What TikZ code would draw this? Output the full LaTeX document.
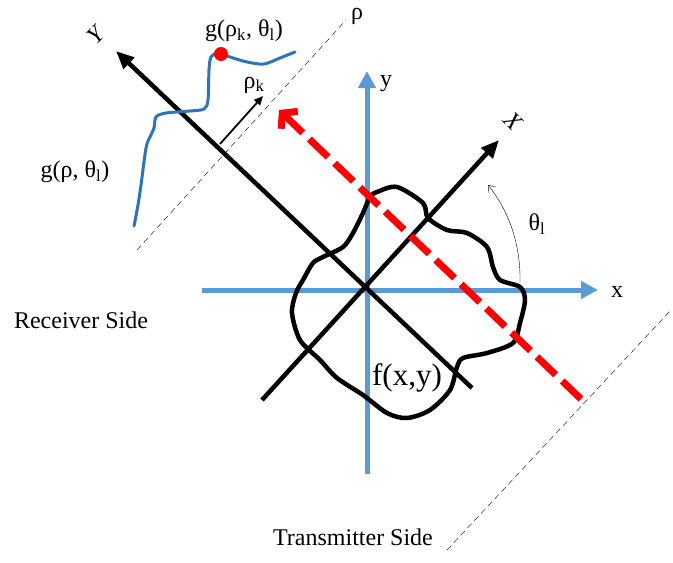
\documentclass[tikz,border=0pt]{standalone}
\usepackage{fontspec}
\setmainfont{Liberation Serif}
\usetikzlibrary{arrows.meta}
\definecolor{axisblue}{RGB}{91,155,213}
\definecolor{curveblue}{RGB}{46,117,182}
\begin{document}
\begin{tikzpicture}[x=1pt, y=-1pt,
    every node/.style={font=\fontsize{24}{28}\selectfont, inner sep=1pt},
    blueaxis/.style={draw=axisblue, line width=5pt, -{Triangle[length=17pt,width=17pt]}},
    blackaxis/.style={draw=black, line width=4.5pt, -{Triangle[length=18pt,width=15pt]}},
    beam/.style={draw=red, line width=7pt, dash pattern=on 26pt off 9pt,
                 -{Straight Barb[length=10pt,width=24pt]}},
    sideline/.style={draw=black, thin, dash pattern=on 6pt off 4pt},
    rotlab/.style={font=\fontsize{24}{28}\selectfont\itshape},
  ]
    \useasboundingbox (0,0) rectangle (673,563);
    % detector / source lines
    \coordinate (r1) at (137,250);
    \coordinate (r2) at (346,20);
    \coordinate (t1) at (447,550);
    \coordinate (t2) at (671,310);
    \draw[sideline] (r1) -- (r2);
    \draw[sideline] (t1) -- (t2);
    % fixed axes
    \coordinate (O) at (367,290);
    \coordinate (xa) at (202,290);
    \coordinate (xb) at (598,290);
    \coordinate (ya) at (367,474);
    \coordinate (yb) at (367,71);
    \draw[blueaxis] (xa) -- (xb);
    \draw[blueaxis] (ya) -- (yb);
    % rotated axes
    \coordinate (Xa) at (262,400);
    \coordinate (Xb) at (499,140);
    \coordinate (Ya) at (472,388);
    \coordinate (Yb) at (116,51);
    \draw[blackaxis] (Xa) -- (Xb);
    \draw[blackaxis] (Ya) -- (Yb);
    % object
    \draw[line width=4.5pt, line join=round] plot[smooth cycle, tension=0.5] coordinates {
      (377,192) (397,187) (423,203) (428,218) (447,230) (467,233) (487,247)
      (493,267) (500,280) (520,287) (525,300) (520,323) (513,343) (487,353)
      (463,358) (457,367) (450,390) (430,410) (407,418) (387,413) (363,395)
      (337,378) (320,360) (300,340) (292,313) (296,293) (303,280) (313,263)
      (323,257) (343,247) (353,233) (363,213) (370,197)};
    % ray
    \coordinate (s1) at (581,399);
    \coordinate (s2) at (279,110);
    \draw[beam] (s1) -- (s2);
    % projection
    \draw[curveblue, line width=3pt, line cap=round] plot[smooth, tension=0.5] coordinates {
      (134,226) (138,205) (141,185) (146,148) (150,137) (154,128) (156,117)
      (166,113) (190,111) (204,109) (208,100) (209,70) (211,57) (218,53)
      (230,57) (247,62) (264,64) (280,58) (295,52)};
    \fill[red] (221,54) circle[radius=7pt];
    \coordinate (k1) at (220,144);
    \coordinate (k2) at (263,96);
    \draw[line width=1.8pt, -{Triangle[length=9pt,width=8pt]}] (k1) -- (k2);
    % angle
    \coordinate (a1) at (520,283);
    \coordinate (a2) at (488,185);
    \draw[thin, -{Straight Barb[length=6pt,width=9pt]}] (a1) .. controls (521,240) and (506,207) .. (a2);
    % labels
    \node (xlab) at (617,292) {x};
    \node (ylab) at (386,84) {y};
    \node[rotlab, rotate=-45] (Xlab) at (513,121) {X};
    \node[rotlab, rotate=45] (Ylab) at (96,35) {Y};
    \node (rholab) at (357,16) {ρ};
    \node (rklab) at (254,85) {ρ\textsubscript{k}};
    \node (gk) at (244,31) {g(ρ\textsubscript{k}, θ\textsubscript{l})};
    \node (g) at (75,172) {g(ρ, θ\textsubscript{l})};
    \node (th) at (537,224) {θ\textsubscript{l}};
    \node[font=\fontsize{31}{34}\selectfont] (f) at (407,378) {f(x,y)};
    \node (rx) at (81,320) {Receiver Side};
    \node (tx) at (353,537) {Transmitter Side};
\end{tikzpicture}
\end{document}
